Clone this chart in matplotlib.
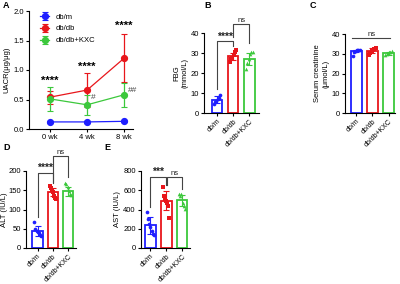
import numpy as np
import matplotlib
matplotlib.use("Agg")
from matplotlib import pyplot as plt

plt.rcParams['font.family'] = ['Liberation Sans', 'DejaVu Sans']
plt.rcParams['font.size'] = 5.5
plt.rcParams['axes.linewidth'] = 0.8
plt.rcParams['xtick.major.width'] = 0.8
plt.rcParams['ytick.major.width'] = 0.8
plt.rcParams['xtick.major.size'] = 2.5
plt.rcParams['ytick.major.size'] = 2.5

groups = ["db/m", "db/db", "db/db+KXC"]
colors = ["#1f1fff", "#e8161b", "#3cc83c"]
markers = ["o", "s", "^"]

# panel A: UACR over time
weeks = ["0 wk", "4 wk", "8 wk"]
uacr_mean = {"db/m": [0.12, 0.12, 0.13],
             "db/db": [0.54, 0.66, 1.20],
             "db/db+KXC": [0.51, 0.41, 0.58]}
uacr_err = {"db/m": [0.01, 0.01, 0.01],
            "db/db": [0.11, 0.29, 0.41],
            "db/db+KXC": [0.20, 0.17, 0.20]}
uacr_stars = ["****", "****", "****"]
uacr_star_y = [0.82, 1.05, 1.75]
uacr_hash = ["", "#", "##"]
uacr_hash_y = [0.0, 0.53, 0.66]

# panel B: FBG
fbg_mean = [6.7, 28.3, 27.0]
fbg_err = [1.8, 1.6, 2.8]
fbg_pts = [[4.5, 5.5, 6.2, 7.0, 7.5, 9.0],
           [25.5, 26.8, 27.5, 29.0, 30.5, 31.5],
           [22.0, 25.0, 27.0, 29.5, 30.5, 30.5]]

# panel C: serum creatinine
scr_mean = [31.5, 31.5, 30.3]
scr_err = [0.6, 1.2, 0.8]
scr_pts = [[29.0, 31.0, 31.5, 32.0, 32.0, 32.0],
           [29.5, 30.5, 31.5, 32.0, 32.5, 33.0],
           [29.5, 30.0, 30.5, 31.0, 31.0, 31.5]]

# panel D: ALT
alt_mean = [44.0, 145.0, 147.0]
alt_err = [12.0, 11.0, 12.0]
alt_pts = [[68, 50, 45, 42, 38, 33, 30],
           [162, 155, 150, 146, 135, 130, 126],
           [170, 165, 158, 148, 140, 138]]

# panel E: AST
ast_mean = [235.0, 490.0, 495.0]
ast_err = [85.0, 100.0, 60.0]
ast_pts = [[370, 300, 250, 220, 180, 150, 140],
           [630, 540, 510, 490, 470, 440, 310],
           [565, 545, 560, 470, 440, 410]]

fig = plt.figure(figsize=(4.0, 2.84), dpi=100)


def frac(l, r, t, b):
    return [l / 400, 1 - b / 284, (r - l) / 400, (b - t) / 284]


def clean(ax):
    ax.spines['top'].set_visible(False)
    ax.spines['right'].set_visible(False)
    ax.tick_params(pad=1.2, labelsize=5.5)


def bracket(ax, x1, x2, y, y1, y2, text, size=7.5, bold=True):
    ax.plot([x1, x1, x2, x2], [y1, y, y, y2], color="#444444", lw=0.8,
            clip_on=False)
    ax.text((x1 + x2) / 2, y, text, ha="center", va="bottom", fontsize=size,
            fontweight="bold" if bold else "normal", color="#222222",
            linespacing=1.0)


def bar_panel(pos, means, errs, pts, ylim, yticks, ylabel, lpad=1.5):
    ax = fig.add_axes(frac(*pos))
    clean(ax)
    x = np.arange(len(groups))
    for i in range(len(groups)):
        ax.bar(x[i], means[i], width=0.66, color="white",
               edgecolor=colors[i], lw=1.3, zorder=1)
        n = len(pts[i])
        offs = np.linspace(-0.2, 0.2, n)
        ax.scatter(x[i] + offs, pts[i], s=7, marker=markers[i],
                   color=colors[i], zorder=3, lw=0)
        ax.errorbar(x[i], means[i], yerr=errs[i], color=colors[i],
                    capsize=2, lw=0.8, capthick=0.8, zorder=4)
    ax.set_ylim(*ylim)
    ax.set_yticks(yticks)
    ax.set_xticks(x)
    ax.set_xticklabels(groups, rotation=45, ha="right",
                       rotation_mode="anchor", fontsize=5.0)
    ax.tick_params(axis="x", pad=1.0)
    ax.set_ylabel(ylabel, fontsize=5.5, labelpad=lpad)
    return ax


# A
axA = fig.add_axes(frac(29, 133, 11, 129))
clean(axA)
xw = np.arange(len(weeks))
for g, c in zip(groups, colors):
    axA.errorbar(xw, uacr_mean[g], yerr=uacr_err[g], color=c, marker="o",
                 ms=4.2, lw=0.9, capsize=2, capthick=0.8, label=g)
for i in range(len(weeks)):
    axA.text(xw[i], uacr_star_y[i], uacr_stars[i], ha="center", va="center",
             fontsize=8, fontweight="bold")
    if uacr_hash[i]:
        axA.text(xw[i] + 0.1, uacr_hash_y[i], uacr_hash[i], ha="left",
                 va="center", fontsize=6, color="#444444")
axA.set_xlim(-0.57, 2.24)
axA.set_ylim(0, 2.0)
axA.set_yticks([0.0, 0.5, 1.0, 1.5, 2.0])
axA.set_yticklabels(["0.0", "0.5", "1.0", "1.5", "2.0"])
axA.set_xticks(xw)
axA.set_xticklabels(weeks)
axA.set_ylabel("UACR(μg/μg)", fontsize=5.5, labelpad=2)
axA.legend(loc="upper left", bbox_to_anchor=(0.04, 1.04), frameon=False,
           fontsize=5.5, handlelength=1.2, handletextpad=0.9,
           labelspacing=0.6)

# B
axB = bar_panel((204, 259, 33, 113), fbg_mean, fbg_err, fbg_pts, (0, 40),
                [0, 10, 20, 30, 40], "FBG\n(mmol/L)")
axB.set_xlim(-0.8, 2.6)
bracket(axB, 0, 1, 35.8, 12, 33.5, "****")
bracket(axB, 1, 2, 44.5, 38, 35, "ns", size=5.5, bold=False)

# C
axC = bar_panel((345, 395, 34, 113), scr_mean, scr_err, scr_pts, (0, 40),
                [0, 10, 20, 30, 40], "Serum creatinine\n(μmol/L)")
axC.set_xlim(-0.7, 2.4)
bracket(axC, -0.25, 2.1, 38, 38, 38, "ns", size=5.5, bold=False)

# D
axD = bar_panel((26, 76, 171, 248), alt_mean, alt_err, alt_pts, (0, 200),
                [0, 50, 100, 150, 200], "ALT (IU/L)", lpad=0.5)
axD.set_xlim(-0.75, 2.5)
bracket(axD, 0, 1, 196, 80, 170, "****")
bracket(axD, 1, 2, 240, 172, 185, "ns", size=5.5, bold=False)

# E
axE = bar_panel((141, 190, 171, 248), ast_mean, ast_err, ast_pts, (0, 800),
                [0, 200, 400, 600, 800], "AST (IU/L)")
axE.set_xlim(-0.6, 2.5)
bracket(axE, 0, 0.95, 740, 430, 650, "***")
bracket(axE, 1.05, 2, 740, 650, 610, "ns", size=5.5, bold=False)

# panel letters
for lab, (px, py) in zip("ABCDE", [(3, 5), (204, 5), (310, 5),
                                    (3, 147), (104, 147)]):
    fig.text(px / 400, 1 - py / 284, lab, fontsize=6.5, fontweight="bold",
             va="center")

fig.savefig("out.png", dpi=100)
